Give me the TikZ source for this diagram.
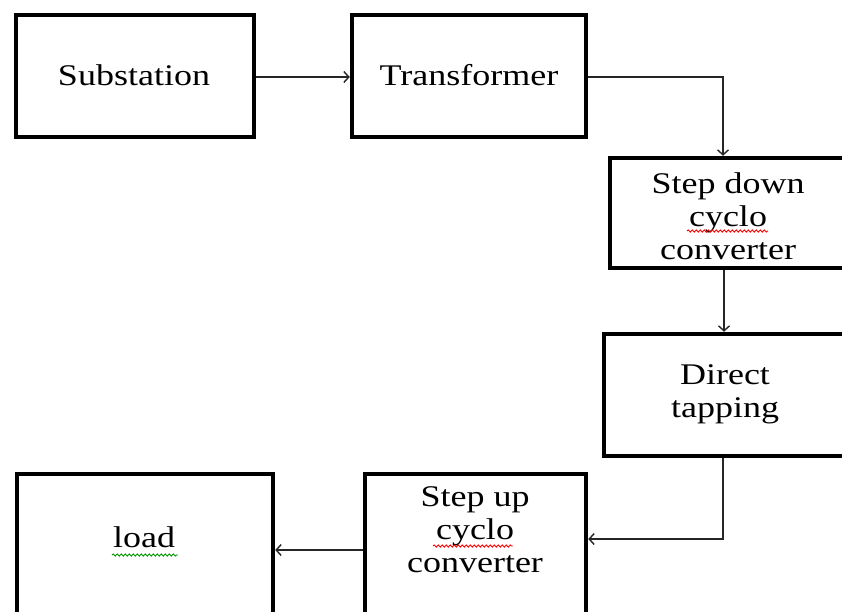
\documentclass[tikz,border=0pt]{standalone}
\usepackage{fontspec}
\setmainfont{Liberation Serif}[FakeStretch=1.2]
\usetikzlibrary{arrows.meta,decorations.pathmorphing}
\begin{document}
\begin{tikzpicture}[x=1pt,y=-1pt,
  box/.style={draw=black,line width=4.5pt,rectangle,inner sep=0pt},
  lbl/.style={inner sep=0pt,align=center,font=\fontsize{30}{33}\selectfont,text=black},
  conn/.style={draw=black!85,line width=1.6pt,-{Straight Barb[length=5pt,width=11pt,line width=1.4pt]}},
  wavy/.style={line width=0.9pt,decorate,decoration={snake,segment length=4pt,amplitude=1.1pt}}
]
\useasboundingbox (0,0) rectangle (842,611);
\fill[white] (0,0) rectangle (842,611);
\clip (0,0) rectangle (842,611);

\node[box,minimum width=238pt,minimum height=122pt] (sub) at (135,76) {};
\node[box,minimum width=234pt,minimum height=122pt] (trans) at (469,76) {};
\node[box,minimum width=236pt,minimum height=110pt] (sdown) at (728,213) {};
\node[box,minimum width=242pt,minimum height=122pt] (dtap) at (725,395) {};
\node[box,minimum width=221pt,minimum height=146pt] (sup) at (475.5,547) {};
\node[box,minimum width=256pt,minimum height=146pt] (load) at (145,547) {};

\node[lbl,anchor=base] (tsub) at (134,85) {Substation};
\node[lbl,anchor=base] (ttrans) at (469,85) {Transformer};
\node[lbl,anchor=north] (tsdown) at (728,172) {Step down\\cyclo\\converter};
\node[lbl,anchor=north] (tdtap) at (725,364) {Direct\\tapping};
\node[lbl,anchor=north] (tsup) at (475,486) {Step up\\cyclo\\converter};
\node[lbl,anchor=base] (tload) at (144,547) {load};

\draw[wavy,red] (687,231) -- (768,231);
\draw[wavy,red] (433,546) -- (513,546);
\draw[wavy,green!60!black] (112,555) -- (178,555);

\draw[conn] ([yshift=-1pt]sub.east) -- ([yshift=-1pt]sub.east -| trans.west);
\draw[conn] ([yshift=-1pt]trans.east) -| ([xshift=-5pt]sdown.north);
\draw[conn] ([xshift=-4pt]sdown.south) -- ([xshift=-4pt]sdown.south |- dtap.north);
\draw[conn] ([xshift=-2pt]dtap.south) |- ([yshift=8pt]sup.east);
\draw[conn] ([yshift=-3pt]sup.west) -- ([yshift=-3pt]sup.west -| load.east);
\end{tikzpicture}
\end{document}
